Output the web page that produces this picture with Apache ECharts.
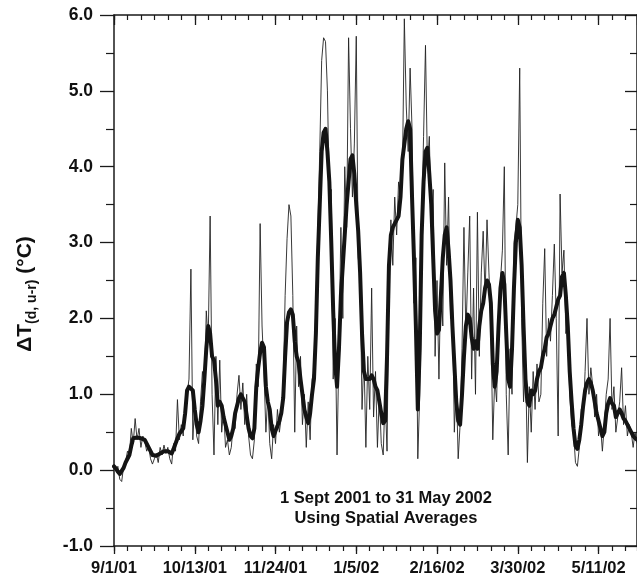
<!DOCTYPE html>
<html><head><meta charset="utf-8">
<script src="https://cdn.jsdelivr.net/npm/echarts@6/dist/echarts.min.js"></script>
<style>html,body{margin:0;padding:0;background:#fff}#c{width:637px;height:580px}</style>
</head><body><div id="c"></div>
<script>
// Days since 1 Sept 2001
const tickLabels = ['9/1/01','10/13/01','11/24/01','1/5/02','2/16/02','3/30/02','5/11/02'];
const tickStepDays = 42;
const minorStepDays = 7;
const lastDay = 272;

const thinSeries = [
0.08,0.0,0.05,-0.12,-0.15,0.05,0.1,0.25,0.2,0.55,
0.35,0.68,0.4,0.55,0.3,0.45,0.38,0.25,0.32,0.15,
0.08,0.15,0.22,0.1,0.3,0.2,0.33,0.22,0.3,0.15,
0.08,0.35,0.25,0.93,0.4,0.6,0.45,0.85,1.0,1.2,
2.65,0.4,0.9,0.45,0.35,0.9,1.3,1.05,2.1,1.7,
3.35,1.0,0.2,1.5,0.6,1.45,0.5,0.8,0.3,0.4,
0.2,0.3,0.6,0.55,1.0,1.25,0.8,1.15,0.6,1.0,
0.45,0.2,0.15,0.4,1.4,1.1,3.25,1.9,1.3,0.5,
1.0,0.35,0.15,0.6,0.35,0.8,0.5,0.7,1.1,2.3,
3.05,3.5,3.35,2.3,0.5,1.9,1.1,1.5,0.6,1.0,
0.3,0.9,0.4,1.2,1.3,2.2,3.15,4.2,5.4,5.7,
5.65,5.0,3.6,3.7,1.2,2.0,0.2,1.6,3.2,2.0,
4.0,3.2,5.7,4.5,3.6,4.3,5.72,2.8,2.6,0.8,
1.5,0.3,1.5,0.8,2.4,0.7,1.3,0.3,1.0,0.35,
0.2,1.0,0.25,2.5,3.3,2.7,3.6,3.1,3.8,3.6,
3.9,5.95,4.8,4.2,5.3,4.5,2.2,2.8,0.15,1.0,
3.3,4.4,5.6,4.0,4.4,3.2,3.7,1.5,2.5,1.2,
2.6,1.9,4.05,2.7,3.6,2.0,2.3,0.5,1.2,0.15,
0.6,1.6,3.2,1.8,2.6,3.35,1.2,2.4,1.0,3.4,
1.5,2.6,3.15,2.3,3.3,2.6,2.0,0.4,1.2,0.9,
2.1,2.5,2.9,4.0,1.0,0.2,1.6,1.0,3.0,3.2,
3.5,5.3,2.0,0.9,1.5,0.1,1.1,0.5,1.3,0.8,
1.4,0.9,1.0,2.2,2.92,1.5,2.0,1.7,2.3,2.98,
2.0,0.45,3.64,2.6,2.9,1.8,2.0,1.0,0.6,0.5,
0.1,0.05,0.3,0.8,0.7,1.3,2.0,1.0,1.35,1.1,
0.7,1.0,0.45,0.6,0.25,0.6,1.0,1.2,2.0,0.8,
1.1,0.5,0.7,0.9,1.35,0.6,0.85,0.45,0.6,0.5,
0.3,0.5,0.35
];

const smoothSeries = [
0.05,0.02,-0.02,-0.05,-0.03,0.03,0.1,0.15,0.2,0.32,
0.42,0.43,0.43,0.43,0.42,0.41,0.40,0.35,0.3,0.25,
0.2,0.18,0.19,0.2,0.22,0.24,0.25,0.26,0.25,0.25,
0.22,0.28,0.35,0.42,0.48,0.5,0.55,0.75,1.05,1.1,
1.1,1.05,0.8,0.6,0.5,0.65,0.85,1.2,1.6,1.9,
1.8,1.5,1.45,1.2,0.85,0.9,0.85,0.7,0.6,0.5,
0.4,0.45,0.55,0.75,0.85,0.95,1.0,0.98,0.9,0.72,
0.55,0.45,0.42,0.55,1.1,1.35,1.55,1.68,1.62,1.1,
0.9,0.8,0.55,0.45,0.52,0.58,0.65,0.75,0.95,1.5,
1.95,2.08,2.12,2.05,1.7,1.5,1.42,1.2,1.0,0.8,
0.7,0.62,0.75,1.0,1.2,1.8,2.8,3.5,4.2,4.45,
4.5,4.2,3.8,3.0,2.1,1.4,1.1,1.6,2.3,2.7,
3.1,3.5,3.8,4.1,4.15,3.9,3.5,3.15,2.6,1.8,
1.3,1.2,1.22,1.2,1.25,1.2,1.1,1.05,0.9,0.75,
0.62,0.65,1.5,2.7,3.1,3.2,3.25,3.3,3.35,3.6,
4.1,4.3,4.5,4.6,4.5,3.6,2.8,1.9,0.8,1.6,
3.1,3.8,4.2,4.25,3.9,3.5,2.8,2.1,1.8,1.85,
2.3,2.8,3.1,3.2,2.9,2.5,1.9,1.4,0.9,0.65,
0.6,1.0,1.5,1.9,2.05,2.0,1.75,1.6,1.7,1.6,
1.9,2.1,2.2,2.4,2.5,2.45,2.2,1.4,1.1,1.3,
1.9,2.4,2.6,2.45,1.8,1.2,1.1,1.6,2.4,3.0,
3.3,3.2,2.7,1.9,1.2,0.9,0.85,1.05,1.0,1.05,
1.2,1.3,1.35,1.5,1.6,1.75,1.8,1.9,2.0,2.05,
2.15,2.25,2.3,2.55,2.6,2.3,1.9,1.3,0.9,0.55,
0.32,0.28,0.4,0.6,0.85,1.05,1.15,1.2,1.15,1.05,
0.9,0.75,0.65,0.55,0.45,0.5,0.75,0.88,0.95,0.88,
0.85,0.7,0.7,0.8,0.75,0.68,0.65,0.6,0.55,0.5,
0.45,0.42,0.4
];

const FONT = 'Liberation Sans';
const AX = '#1a1a1a';

function xAxisDef(opts) {
  return Object.assign({
    type: 'value', min: 0, max: lastDay, gridIndex: 0,
    axisLine: { show: true, onZero: false, lineStyle: { color: AX, width: 1.5 } },
    splitLine: { show: false },
    axisLabel: { show: false },
    minorTick: { show: false }
  }, opts);
}

const chart = echarts.init(document.getElementById('c'), null, { renderer: 'canvas' });
chart.setOption({
  animation: false,
  backgroundColor: '#fff',
  grid: { left: 114, top: 15, bottom: 34, right: -6, containLabel: false },
  xAxis: [
    xAxisDef({
      position: 'bottom', interval: tickStepDays,
      axisTick: { show: true, inside: false, length: 8, lineStyle: { color: AX, width: 1.3 } },
      axisLabel: {
        show: true, margin: 14, showMaxLabel: false,
        fontFamily: FONT, fontWeight: 'bold', fontSize: 16.5, color: '#111',
        formatter: function (v) {
          const i = Math.round(v / tickStepDays);
          return (Math.abs(v - i * tickStepDays) < 1e-6 && tickLabels[i]) ? tickLabels[i] : '';
        }
      }
    }),
    xAxisDef({
      position: 'bottom', interval: minorStepDays,
      axisLine: { show: false, onZero: false },
      axisTick: { show: true, inside: false, length: 5, lineStyle: { color: AX, width: 1.2 } }
    }),
    xAxisDef({
      position: 'top', interval: tickStepDays,
      axisTick: { show: true, inside: true, length: 10, lineStyle: { color: AX, width: 1.3 } }
    }),
    xAxisDef({
      position: 'top', interval: minorStepDays,
      axisLine: { show: false, onZero: false },
      axisTick: { show: true, inside: true, length: 5, lineStyle: { color: AX, width: 1.2 } }
    })
  ],
  yAxis: [
    {
      type: 'value', min: -1, max: 6, interval: 1, position: 'left',
      axisLine: { show: true, onZero: false, lineStyle: { color: AX, width: 1.5 } },
      axisTick: { show: true, inside: false, length: 14, lineStyle: { color: AX, width: 1.3 } },
      minorTick: { show: true, splitNumber: 2, length: 8, lineStyle: { color: AX, width: 1.2 } },
      splitLine: { show: false },
      axisLabel: {
        show: true, margin: 21, fontFamily: FONT, fontWeight: 'bold', fontSize: 17.5, color: '#111',
        formatter: function (v) { return v.toFixed(1); }
      }
    },
    {
      type: 'value', min: -1, max: 6, interval: 1, position: 'right',
      axisLine: { show: true, onZero: false, lineStyle: { color: AX, width: 1.5 } },
      axisTick: { show: true, inside: true, length: 12, lineStyle: { color: AX, width: 1.3 } },
      minorTick: { show: true, splitNumber: 2, length: 7, lineStyle: { color: AX, width: 1.2 } },
      splitLine: { show: false },
      axisLabel: { show: false }
    }
  ],
  series: [
    {
      name: 'raw', type: 'line', xAxisIndex: 0, yAxisIndex: 0,
      data: thinSeries.map(function (v, i) { return [i, v]; }),
      showSymbol: false, symbol: 'none', silent: true,
      lineStyle: { color: '#222', width: 0.9 }
    },
    {
      name: 'smooth', type: 'line', xAxisIndex: 0, yAxisIndex: 0,
      data: smoothSeries.map(function (v, i) { return [i, v]; }),
      showSymbol: false, symbol: 'none', silent: true,
      lineStyle: { color: '#141414', width: 4, join: 'round', cap: 'round' }
    }
  ],
  graphic: [
    {
      type: 'text', x: 25, y: 294, rotation: Math.PI / 2,
      style: {
        text: '{a|\u0394T}{s|(d, u-r)}{a| (\u00B0C)}',
        align: 'center', verticalAlign: 'middle',
        rich: {
          a: { fontFamily: FONT, fontWeight: 'bold', fontSize: 21, lineHeight: 28, fill: '#111' },
          s: { fontFamily: FONT, fontWeight: 'bold', fontSize: 14, lineHeight: 14, verticalAlign: 'bottom', fill: '#111' }
        }
      }
    },
    {
      type: 'text', x: 386, y: 508,
      style: {
        text: '1 Sept 2001 to 31 May 2002\nUsing Spatial Averages',
        align: 'center', verticalAlign: 'middle',
        fontFamily: FONT, fontWeight: 'bold', fontSize: 16.5, lineHeight: 20, fill: '#111'
      }
    }
  ]
});
</script>
</body></html>
